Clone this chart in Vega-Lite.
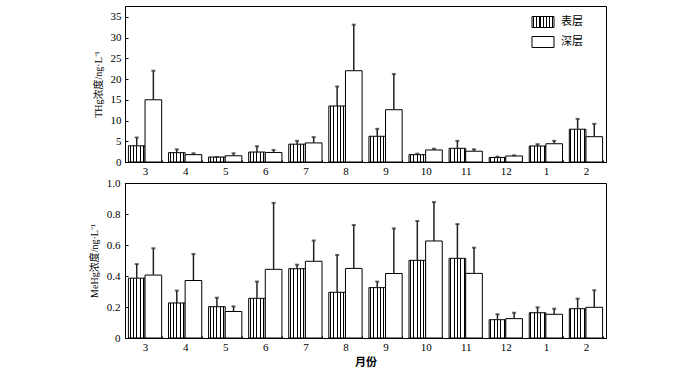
{
  "$schema": "https://vega.github.io/schema/vega-lite/v6.json",
  "padding": {"left": 88, "top": 5, "right": 10, "bottom": 5},
  "background": "white",
  "bounds": "flush",
  "spacing": 21,
  "config": {
    "font": "Liberation Serif, Noto Sans CJK SC",
    "view": {"stroke": "black", "strokeWidth": 1},
    "axis": {
      "labelFont": "Liberation Serif, Noto Sans CJK SC",
      "titleFont": "Liberation Serif, Noto Sans CJK SC",
      "labelColor": "black",
      "titleColor": "black",
      "domainColor": "black",
      "tickColor": "black",
      "labelFontSize": 11,
      "titleFontSize": 10,
      "titleFontWeight": "normal",
      "grid": false
    },
    "legend": {
      "labelFont": "Liberation Serif, Noto Sans CJK SC",
      "labelFontSize": 11,
      "labelColor": "black",
      "padding": 0
    }
  },
  "datasets": {
    "thg": [
      {"month": "3", "layer": "表层", "value": 3.9, "upper": 5.9},
      {"month": "3", "layer": "深层", "value": 15.0, "upper": 22.0},
      {"month": "4", "layer": "表层", "value": 2.25, "upper": 3.05},
      {"month": "4", "layer": "深层", "value": 1.77, "upper": 2.1},
      {"month": "5", "layer": "表层", "value": 1.2, "upper": 1.2},
      {"month": "5", "layer": "深层", "value": 1.5, "upper": 2.1},
      {"month": "6", "layer": "表层", "value": 2.4, "upper": 3.8},
      {"month": "6", "layer": "深层", "value": 2.3, "upper": 2.9},
      {"month": "7", "layer": "表层", "value": 4.3, "upper": 5.1},
      {"month": "7", "layer": "深层", "value": 4.6, "upper": 6.0},
      {"month": "8", "layer": "表层", "value": 13.5, "upper": 18.2},
      {"month": "8", "layer": "深层", "value": 22.0, "upper": 33.1},
      {"month": "9", "layer": "表层", "value": 6.2, "upper": 8.0},
      {"month": "9", "layer": "深层", "value": 12.6, "upper": 21.2},
      {"month": "10", "layer": "表层", "value": 1.77, "upper": 2.0},
      {"month": "10", "layer": "深层", "value": 2.9, "upper": 3.2},
      {"month": "11", "layer": "表层", "value": 3.3, "upper": 5.1},
      {"month": "11", "layer": "深层", "value": 2.6, "upper": 3.06},
      {"month": "12", "layer": "表层", "value": 1.1, "upper": 1.3},
      {"month": "12", "layer": "深层", "value": 1.45, "upper": 1.6},
      {"month": "1", "layer": "表层", "value": 3.86, "upper": 4.3},
      {"month": "1", "layer": "深层", "value": 4.4, "upper": 5.1},
      {"month": "2", "layer": "表层", "value": 7.9, "upper": 10.4},
      {"month": "2", "layer": "深层", "value": 6.1, "upper": 9.2}
    ],
    "mehg": [
      {"month": "3", "layer": "表层", "value": 0.386, "upper": 0.477},
      {"month": "3", "layer": "深层", "value": 0.406, "upper": 0.579},
      {"month": "4", "layer": "表层", "value": 0.226, "upper": 0.306},
      {"month": "4", "layer": "深层", "value": 0.371, "upper": 0.542},
      {"month": "5", "layer": "表层", "value": 0.202, "upper": 0.26},
      {"month": "5", "layer": "深层", "value": 0.171, "upper": 0.204},
      {"month": "6", "layer": "表层", "value": 0.256, "upper": 0.364},
      {"month": "6", "layer": "深层", "value": 0.443, "upper": 0.872},
      {"month": "7", "layer": "表层", "value": 0.447, "upper": 0.473},
      {"month": "7", "layer": "深层", "value": 0.495, "upper": 0.629},
      {"month": "8", "layer": "表层", "value": 0.295, "upper": 0.536},
      {"month": "8", "layer": "深层", "value": 0.449, "upper": 0.729},
      {"month": "9", "layer": "表层", "value": 0.325, "upper": 0.364},
      {"month": "9", "layer": "深层", "value": 0.416, "upper": 0.707},
      {"month": "10", "layer": "表层", "value": 0.501, "upper": 0.755},
      {"month": "10", "layer": "深层", "value": 0.626, "upper": 0.877},
      {"month": "11", "layer": "表层", "value": 0.514, "upper": 0.735},
      {"month": "11", "layer": "深层", "value": 0.417, "upper": 0.583},
      {"month": "12", "layer": "表层", "value": 0.118, "upper": 0.153},
      {"month": "12", "layer": "深层", "value": 0.125, "upper": 0.163},
      {"month": "1", "layer": "表层", "value": 0.163, "upper": 0.198},
      {"month": "1", "layer": "深层", "value": 0.153, "upper": 0.189},
      {"month": "2", "layer": "表层", "value": 0.189, "upper": 0.254},
      {"month": "2", "layer": "深层", "value": 0.198, "upper": 0.308}
    ]
  },
  "resolve": {"scale": {"stroke": "independent"}, "legend": {"stroke": "independent"}},
  "vconcat": [
    {
      "width": 481,
      "height": 156,
      "data": {"name": "thg"},
      "encoding": {
        "x": {
          "field": "month", "type": "nominal",
          "scale": {"domain": ["3","4","5","6","7","8","9","10","11","12","1","2"], "paddingInner": 0.17, "paddingOuter": 0.085},
          "axis": {"title": null, "labelAngle": 0, "labelPadding": 5, "tickBand": "extent", "tickSize": -2, "domain": true}
        },
        "xOffset": {"field": "layer", "type": "nominal", "scale": {"domain": ["表层", "深层"], "paddingInner": 0}},
        "y": {
          "field": "value", "type": "quantitative",
          "scale": {"domain": [0, 37.6], "nice": false},
          "axis": {"title": "THg浓度/ng·L⁻¹", "values": [0,5,10,15,20,25,30,35], "ticks": true, "tickSize": -3, "labelPadding": 7, "titlePadding": 7}
        }
      },
      "layer": [
        {
          "transform": [{"filter": "datum.layer === '表层'"}],
          "mark": {"type": "bar", "strokeWidth": 1, "fillOpacity": 1,
            "fill": {"gradient": "linear", "x1": 0, "y1": 0, "x2": 1, "y2": 0, "stops": [
              {"offset": 0, "color": "white"}, {"offset": 0.07, "color": "white"},
              {"offset": 0.07, "color": "black"}, {"offset": 0.13, "color": "black"},
              {"offset": 0.13, "color": "white"}, {"offset": 0.27, "color": "white"},
              {"offset": 0.27, "color": "black"}, {"offset": 0.33, "color": "black"},
              {"offset": 0.33, "color": "white"}, {"offset": 0.47, "color": "white"},
              {"offset": 0.47, "color": "black"}, {"offset": 0.53, "color": "black"},
              {"offset": 0.53, "color": "white"}, {"offset": 0.67, "color": "white"},
              {"offset": 0.67, "color": "black"}, {"offset": 0.73, "color": "black"},
              {"offset": 0.73, "color": "white"}, {"offset": 0.87, "color": "white"},
              {"offset": 0.87, "color": "black"}, {"offset": 0.93, "color": "black"},
              {"offset": 0.93, "color": "white"}, {"offset": 1, "color": "white"}
            ]}},
          "encoding": {
            "stroke": {
              "field": "layer", "type": "nominal",
              "scale": {"domain": ["表层", "深层"], "range": ["black", "black"]},
              "legend": {
                "title": null, "orient": "none", "legendX": 412, "legendY": 10,
                "symbolType": "M-2,-1H2V1H-2Z", "symbolSize": 121,
                "symbolStrokeWidth": 1, "labelOffset": 12, "rowPadding": 4,
                "encoding": {
                  "symbols": {
                    "fill": {
                      "condition": {"test": "datum.value === '深层'", "value": "white"},
                      "value": {"gradient": "linear", "x1": 0, "y1": 0, "x2": 1, "y2": 0, "stops": [
                        {"offset": 0, "color": "white"}, {"offset": 0.06, "color": "white"},
                        {"offset": 0.06, "color": "black"}, {"offset": 0.11, "color": "black"},
                        {"offset": 0.11, "color": "white"}, {"offset": 0.2, "color": "white"},
                        {"offset": 0.2, "color": "black"}, {"offset": 0.25, "color": "black"},
                        {"offset": 0.25, "color": "white"}, {"offset": 0.34, "color": "white"},
                        {"offset": 0.34, "color": "black"}, {"offset": 0.39, "color": "black"},
                        {"offset": 0.39, "color": "white"}, {"offset": 0.48, "color": "white"},
                        {"offset": 0.48, "color": "black"}, {"offset": 0.53, "color": "black"},
                        {"offset": 0.53, "color": "white"}, {"offset": 0.62, "color": "white"},
                        {"offset": 0.62, "color": "black"}, {"offset": 0.67, "color": "black"},
                        {"offset": 0.67, "color": "white"}, {"offset": 0.76, "color": "white"},
                        {"offset": 0.76, "color": "black"}, {"offset": 0.81, "color": "black"},
                        {"offset": 0.81, "color": "white"}, {"offset": 0.9, "color": "white"},
                        {"offset": 0.9, "color": "black"}, {"offset": 0.95, "color": "black"},
                        {"offset": 0.95, "color": "white"}, {"offset": 1, "color": "white"}
                      ]}
                    },
                    "fillOpacity": {"value": 1},
                    "opacity": {"value": 1}
                  }
                }
              }
            }
          }
        },
        {
          "transform": [{"filter": "datum.layer === '深层'"}],
          "mark": {"type": "bar", "fill": "white", "fillOpacity": 1, "strokeWidth": 1},
          "encoding": {
            "stroke": {"field": "layer", "type": "nominal"}
          }
        },
        {
          "mark": {"type": "rule", "color": "#222", "strokeWidth": 1.5},
          "encoding": {
            "y2": {"field": "upper"}
          }
        },
        {
          "mark": {"type": "tick", "color": "#222", "size": 4, "thickness": 2},
          "encoding": {
            "y": {"field": "upper", "type": "quantitative"}
          }
        }
      ]
    },
    {
      "width": 481,
      "height": 155,
      "data": {"name": "mehg"},
      "encoding": {
        "x": {
          "field": "month", "type": "nominal",
          "scale": {"domain": ["3","4","5","6","7","8","9","10","11","12","1","2"], "paddingInner": 0.17, "paddingOuter": 0.085},
          "axis": {"title": "月份", "titleFontSize": 11, "titleFontWeight": "bold", "titlePadding": 4, "labelAngle": 0, "labelPadding": 5, "tickBand": "extent", "tickSize": -2}
        },
        "xOffset": {"field": "layer", "type": "nominal", "scale": {"domain": ["表层", "深层"], "paddingInner": 0}},
        "y": {
          "field": "value", "type": "quantitative",
          "scale": {"domain": [0, 1.0], "nice": false},
          "axis": {"title": "MeHg浓度/ng·L⁻¹", "values": [0,0.2,0.4,0.6,0.8,1.0], "labelExpr": "datum.value == 0 ? '0' : format(datum.value, '.1f')", "ticks": true, "tickSize": -3, "labelPadding": 8, "titlePadding": 7}
        }
      },
      "layer": [
        {
          "transform": [{"filter": "datum.layer === '表层'"}],
          "mark": {"type": "bar", "stroke": "black", "strokeWidth": 1, "fillOpacity": 1,
            "fill": {"gradient": "linear", "x1": 0, "y1": 0, "x2": 1, "y2": 0, "stops": [
              {"offset": 0, "color": "white"}, {"offset": 0.07, "color": "white"},
              {"offset": 0.07, "color": "black"}, {"offset": 0.13, "color": "black"},
              {"offset": 0.13, "color": "white"}, {"offset": 0.27, "color": "white"},
              {"offset": 0.27, "color": "black"}, {"offset": 0.33, "color": "black"},
              {"offset": 0.33, "color": "white"}, {"offset": 0.47, "color": "white"},
              {"offset": 0.47, "color": "black"}, {"offset": 0.53, "color": "black"},
              {"offset": 0.53, "color": "white"}, {"offset": 0.67, "color": "white"},
              {"offset": 0.67, "color": "black"}, {"offset": 0.73, "color": "black"},
              {"offset": 0.73, "color": "white"}, {"offset": 0.87, "color": "white"},
              {"offset": 0.87, "color": "black"}, {"offset": 0.93, "color": "black"},
              {"offset": 0.93, "color": "white"}, {"offset": 1, "color": "white"}
            ]}}
        },
        {
          "transform": [{"filter": "datum.layer === '深层'"}],
          "mark": {"type": "bar", "fill": "white", "fillOpacity": 1, "stroke": "black", "strokeWidth": 1}
        },
        {
          "mark": {"type": "rule", "color": "#222", "strokeWidth": 1.5},
          "encoding": {
            "y2": {"field": "upper"}
          }
        },
        {
          "mark": {"type": "tick", "color": "#222", "size": 4, "thickness": 2},
          "encoding": {
            "y": {"field": "upper", "type": "quantitative"}
          }
        }
      ]
    }
  ]
}
